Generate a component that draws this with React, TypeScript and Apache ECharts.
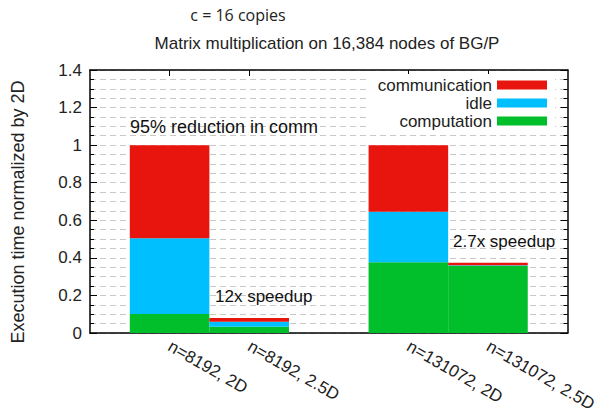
import React, { useEffect, useRef } from "react";
import * as echarts from "echarts";

const categories = ["", "n=8192, 2D", "n=8192, 2.5D", "", "n=131072, 2D", "n=131072, 2.5D", ""];
const computation = [null, 0.101, 0.033, null, 0.376, 0.358, null];
const idle = [null, 0.403, 0.027, null, 0.269, 0.002, null];
const communication = [null, 0.496, 0.02, null, 0.355, 0.014, null];
const yTicks = { min: 0, max: 1.4, interval: 0.2 };
const titleTop = "c = 16 copies";
const titleMain = "Matrix multiplication on 16,384 nodes of BG/P";
const yName = "Execution time normalized by 2D";
const notes = ["95% reduction in comm", "12x speedup", "2.7x speedup"];

const RED = "#e8150f";
const CYAN = "#00bfff";
const GREEN = "#00bf2b";
const FONT = "Liberation Sans, Arial, sans-serif";

export default function App() {
  const ref = useRef<HTMLDivElement>(null);
  useEffect(() => {
    if (!ref.current) return;
    const chart = echarts.init(ref.current, null, { renderer: "svg" });
    const showTick = (_i: number, v: string) => v !== "";
    const xBase = {
      type: "category",
      data: categories,
      boundaryGap: false,
      axisLine: { show: true, onZero: false, lineStyle: { color: "#000", width: 1.5 } },
      axisTick: { show: true, inside: true, length: 6, interval: showTick, lineStyle: { color: "#000" } },
      splitLine: { show: false },
    };
    const yBase = {
      type: "value",
      min: yTicks.min,
      max: yTicks.max,
      interval: yTicks.interval,
      axisLine: { show: true, lineStyle: { color: "#000", width: 1.5 } },
      axisTick: { show: true, inside: true, length: 7, lineStyle: { color: "#000" } },
      minorTick: { show: true, splitNumber: 4, length: 4, lineStyle: { color: "#000" } },
    };
    chart.setOption({
      animation: false,
      textStyle: { fontFamily: FONT },
      grid: { left: 90, right: 32, top: 70, bottom: 85, containLabel: false },
      legend: {
        data: ["communication", "idle", "computation"],
        orient: "vertical",
        right: 45,
        top: 74,
        align: "right",
        itemWidth: 50,
        itemHeight: 9,
        itemGap: 0,
        icon: "rect",
        padding: [2, 8],
        backgroundColor: "#fff",
        textStyle: { fontSize: 17, color: "#222", lineHeight: 18, fontFamily: FONT },
      },
      xAxis: [
        {
          ...xBase,
          position: "bottom",
          axisLabel: {
            show: true,
            interval: 0,
            rotate: -30,
            margin: 12,
            fontSize: 17,
            color: "#222",
            fontFamily: FONT,
          },
        },
        {
          ...xBase,
          position: "top",
          axisLabel: { show: false },
        },
      ],
      yAxis: [
        {
          ...yBase,
          position: "left",
          axisLabel: { show: true, fontSize: 17, color: "#222", margin: 8, fontFamily: FONT },
          splitLine: { show: true, lineStyle: { color: "#c8c8c8", type: [6, 4], width: 1 } },
          minorSplitLine: { show: true, lineStyle: { color: "#c8c8c8", type: [6, 4], width: 1 } },
        },
        {
          ...yBase,
          position: "right",
          axisLabel: { show: false },
          splitLine: { show: false },
        },
      ],
      series: [
        { name: "computation", type: "bar", stack: "t", data: computation, barWidth: "100%", itemStyle: { color: GREEN } },
        { name: "idle", type: "bar", stack: "t", data: idle, barWidth: "100%", itemStyle: { color: CYAN } },
        { name: "communication", type: "bar", stack: "t", data: communication, barWidth: "100%", itemStyle: { color: RED } },
      ],
      graphic: [
        {
          type: "text",
          x: 238,
          y: 15,
          style: { text: titleTop, fontSize: 16, fontFamily: "Open Sans, sans-serif", fill: "#222", align: "center", verticalAlign: "middle" },
        },
        {
          type: "text",
          x: 327,
          y: 43,
          style: { text: titleMain, fontSize: 17, fontFamily: FONT, fill: "#222", align: "center", verticalAlign: "middle" },
        },
        {
          type: "text",
          x: 18,
          y: 212,
          rotation: Math.PI / 2,
          style: { text: yName, fontSize: 18, fontFamily: FONT, fill: "#222", align: "center", verticalAlign: "middle" },
        },
        {
          type: "text",
          x: 130,
          y: 127,
          z: 100,
          style: { text: notes[0], fontSize: 18, fontFamily: FONT, fill: "#111", align: "left", verticalAlign: "middle" },
        },
        {
          type: "text",
          x: 215,
          y: 296,
          z: 100,
          style: { text: notes[1], fontSize: 17, fontFamily: FONT, fill: "#111", align: "left", verticalAlign: "middle" },
        },
        {
          type: "text",
          x: 453,
          y: 241,
          z: 100,
          style: { text: notes[2], fontSize: 17, fontFamily: FONT, fill: "#111", align: "left", verticalAlign: "middle" },
        },
      ],
    });
    return () => chart.dispose();
  }, []);
  return <div ref={ref} style={{ width: 600, height: 418, position: "absolute", left: 0, top: 0 }} />;
}
